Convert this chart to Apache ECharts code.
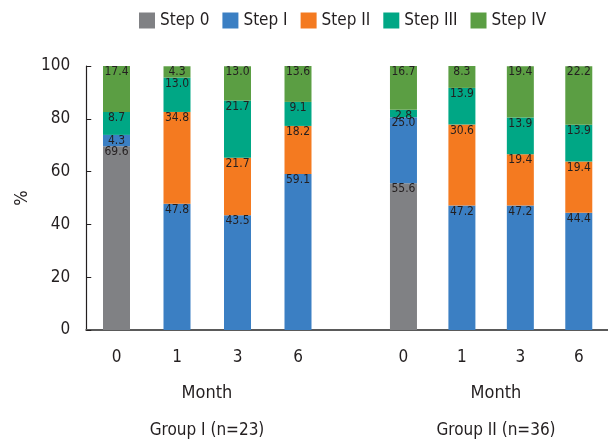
<!DOCTYPE html>
<html>
<head>
<meta charset="utf-8">
<script src="https://cdn.jsdelivr.net/npm/echarts@6/dist/echarts.min.js"></script>
<style>
html,body{margin:0;padding:0;background:#fff;}
#c{width:608px;height:442px;}
</style>
</head>
<body>
<div id="c"></div>
<script>
// ---- data ----
var stepNames = ['Step 0', 'Step I', 'Step II', 'Step III', 'Step IV'];
var months = ['0', '1', '3', '6'];
var groupNames = ['Group I (n=23)', 'Group II (n=36)'];
var xTitle = 'Month';
var yTitle = '%';
var yTicks = [0, 20, 40, 60, 80, 100];

// Group I: one array per step, values for months 0,1,3,6
var g1Step0   = [69.6, 0, 0, 0];
var g1StepI   = [4.3, 47.8, 43.5, 59.1];
var g1StepII  = [0, 34.8, 21.7, 18.2];
var g1StepIII = [8.7, 13.0, 21.7, 9.1];
var g1StepIV  = [17.4, 4.3, 13.0, 13.6];

// Group II
var g2Step0   = [55.6, 0, 0, 0];
var g2StepI   = [25.0, 47.2, 47.2, 44.4];
var g2StepII  = [0, 30.6, 19.4, 19.4];
var g2StepIII = [2.8, 13.9, 13.9, 13.9];
var g2StepIV  = [16.7, 8.3, 19.4, 22.2];

var colors = ['#808184', '#3b7fc3', '#f47a20', '#00a785', '#5b9e43'];

// ---- chart ----
var FONT = "'DejaVu Sans Condensed', 'DejaVu Sans', sans-serif";
var TXT = '#231f20';

var g1 = [g1Step0, g1StepI, g1StepII, g1StepIII, g1StepIV];
var g2 = [g2Step0, g2StepI, g2StepII, g2StepIII, g2StepIV];

function mkSeries(arr, gi) {
  return arr.map(function (vals, si) {
    return {
      name: stepNames[si],
      type: 'bar',
      stack: 'g' + gi,
      xAxisIndex: gi,
      yAxisIndex: gi,
      barWidth: 27,
      itemStyle: { color: colors[si] },
      label: {
        show: true,
        position: 'insideTop',
        distance: 0,
        color: TXT,
        fontFamily: FONT,
        fontSize: 12,
        formatter: function (p) { return p.value ? Number(p.value).toFixed(1) : ''; }
      },
      data: vals.slice()
    };
  });
}

var series = mkSeries(g1, 0).concat(mkSeries(g2, 1));

var yBase = {
  type: 'value', min: yTicks[0], max: yTicks[yTicks.length - 1], interval: 20,
  splitLine: { show: false }
};

var chart = echarts.init(document.getElementById('c'), null, { renderer: 'canvas' });
chart.setOption({
  animation: false,
  color: colors,
  textStyle: { fontFamily: FONT },
  legend: {
    data: stepNames,
    top: 12,
    left: 139,
    padding: 0,
    itemWidth: 16,
    itemHeight: 16,
    itemGap: 13,
    icon: 'rect',
    textStyle: { fontFamily: FONT, fontSize: 17, color: TXT }
  },
  grid: [
    { left: 86.25, top: 66, width: 302.5, height: 264, containLabel: false },
    { left: 374.25, top: 66, width: 242, height: 264, containLabel: false }
  ],
  xAxis: [
    {
      type: 'category', gridIndex: 0, data: months.concat(['']),
      axisLine: { lineStyle: { color: '#5a5a5a', width: 2 } },
      axisTick: { show: false },
      axisLabel: { color: TXT, fontFamily: FONT, fontSize: 17, margin: 19 }
    },
    {
      type: 'category', gridIndex: 1, data: months,
      axisLine: { lineStyle: { color: '#5a5a5a', width: 2 } },
      axisTick: { show: false },
      axisLabel: { color: TXT, fontFamily: FONT, fontSize: 17, margin: 19 }
    }
  ],
  yAxis: [
    Object.assign({}, yBase, {
      gridIndex: 0,
      name: yTitle, nameLocation: 'middle', nameRotate: 90, nameGap: 55,
      nameTextStyle: { color: TXT, fontFamily: FONT, fontSize: 18 },
      axisLine: { show: true, lineStyle: { color: '#231f20', width: 1.2 } },
      axisTick: { show: true, inside: true, length: 5, lineStyle: { color: '#231f20' } },
      axisLabel: { color: TXT, fontFamily: FONT, fontSize: 17, margin: 16 }
    }),
    Object.assign({}, yBase, {
      gridIndex: 1, show: false
    })
  ],
  graphic: [
    { type: 'text', x: 207, y: 393, style: { text: xTitle, textAlign: 'center', textVerticalAlign: 'middle', font: "18px " + FONT, fill: TXT } },
    { type: 'text', x: 496, y: 393, style: { text: xTitle, textAlign: 'center', textVerticalAlign: 'middle', font: "18px " + FONT, fill: TXT } },
    { type: 'text', x: 207, y: 431, style: { text: groupNames[0], textAlign: 'center', textVerticalAlign: 'middle', font: "17px " + FONT, fill: TXT } },
    { type: 'text', x: 496, y: 431, style: { text: groupNames[1], textAlign: 'center', textVerticalAlign: 'middle', font: "17px " + FONT, fill: TXT } }
  ],
  series: series
});
</script>
</body>
</html>
